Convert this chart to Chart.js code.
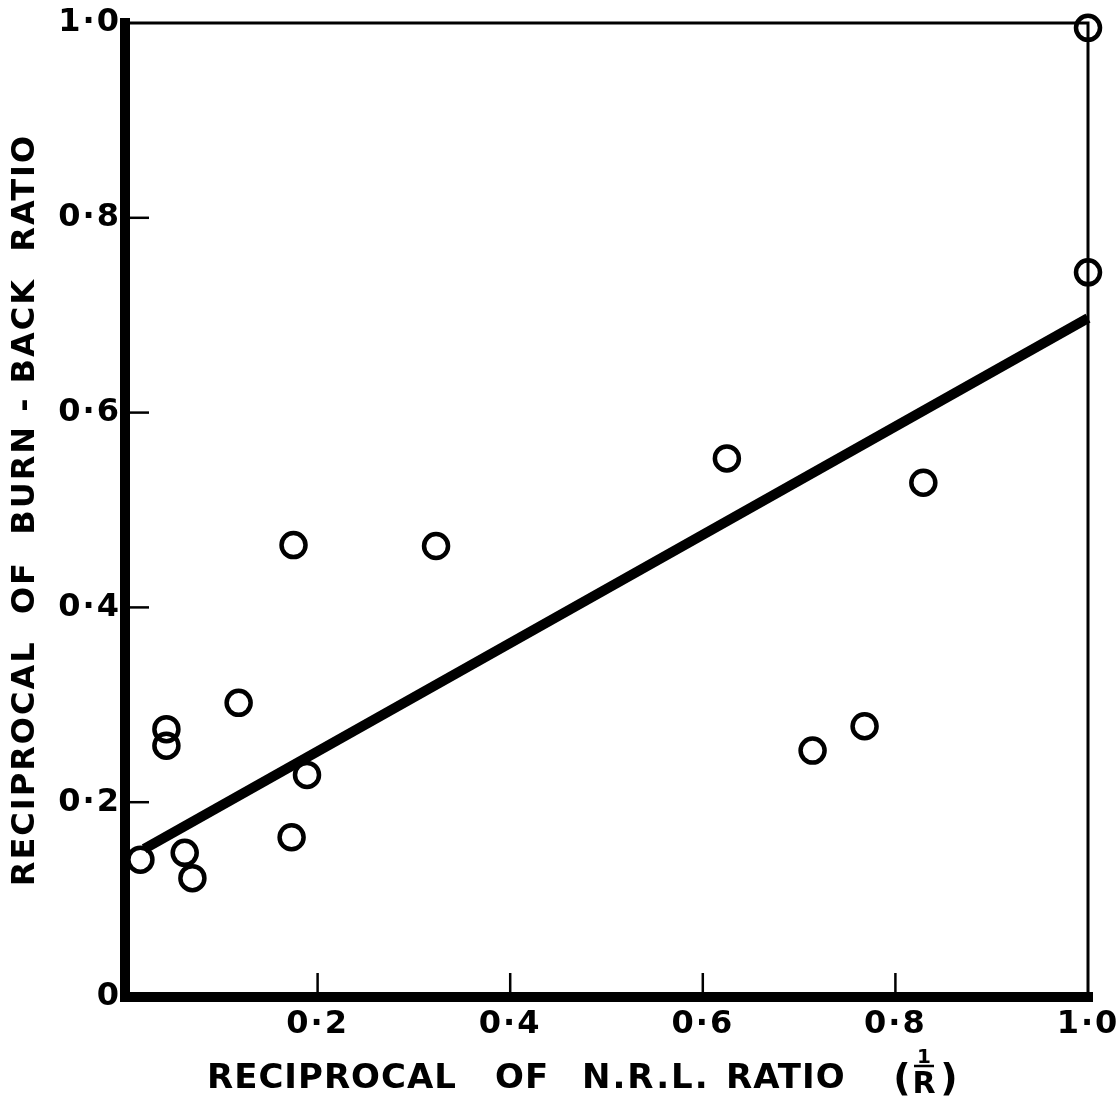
<!DOCTYPE html>
<html>
<head>
<meta charset="utf-8">
<script src="https://cdn.jsdelivr.net/npm/chart.js@4.4.0/dist/chart.umd.min.js"></script>
<style>
  html, body { margin: 0; padding: 0; background: #fff; }
  #wrap { width: 1116px; height: 1113px; position: relative; }
</style>
</head>
<body>
<div id="wrap"><canvas id="chart"></canvas></div>
<script>
// reciprocal of N.R.L. ratio (1/R) and reciprocal of burn-back ratio
const nrlRecip = [1.0, 1.0, 0.625, 0.829, 0.175, 0.323, 0.118, 0.043, 0.043, 0.189, 0.714, 0.768, 0.173, 0.016, 0.062, 0.070];
const burnBackRecip = [0.995, 0.744, 0.553, 0.528, 0.464, 0.463, 0.302, 0.275, 0.258, 0.228, 0.253, 0.278, 0.164, 0.141, 0.148, 0.122];

// fitted straight line
const fitX = [0.02, 1.0];
const fitY = [0.152, 0.697];

const tickValues = [0, 0.2, 0.4, 0.6, 0.8, 1.0];

const xTitleWords = ["RECIPROCAL", "OF", "N.R.L.", "RATIO"];
const yTitle = "RECIPROCAL  OF  BURN - BACK  RATIO";

const fontFamily = "'DejaVu Sans', sans-serif";

function fmt(v) {
  if (v === 0) return "0";
  return v.toFixed(1).replace(".", "\u00B7");
}

const frameAndLabels = {
  id: "frameAndLabels",
  beforeDraw(chart) {
    chart.ctx.letterSpacing = "2px";
  },
  beforeDatasetsDraw(chart) {
    const ctx = chart.ctx;
    ctx.letterSpacing = "0px";
    const { left, right, top, bottom } = chart.chartArea;
    const xs = chart.scales.x;
    const ys = chart.scales.y;
    ctx.save();
    ctx.strokeStyle = "#000";
    ctx.lineJoin = "miter";
    ctx.lineCap = "square";
    // thin top and right edges
    ctx.lineWidth = 3;
    ctx.beginPath();
    ctx.moveTo(left, top);
    ctx.lineTo(right, top);
    ctx.lineTo(right, bottom);
    ctx.stroke();
    // heavy axes
    ctx.lineWidth = 10;
    ctx.beginPath();
    ctx.moveTo(left, top);
    ctx.lineTo(left, bottom);
    ctx.lineTo(right, bottom);
    ctx.stroke();
    // inward tick marks
    ctx.lineWidth = 2.5;
    ctx.lineCap = "butt";
    tickValues.forEach(function (v) {
      if (v === 0 || v === 1) return;
      const px = xs.getPixelForValue(v);
      ctx.beginPath();
      ctx.moveTo(px, bottom);
      ctx.lineTo(px, bottom - 24);
      ctx.stroke();
      const py = ys.getPixelForValue(v);
      ctx.beginPath();
      ctx.moveTo(left, py);
      ctx.lineTo(left + 24, py);
      ctx.stroke();
    });
    ctx.restore();
  },
  afterDraw(chart) {
    const ctx = chart.ctx;
    const { left } = chart.chartArea;
    ctx.save();
    ctx.fillStyle = "#000";
    ctx.strokeStyle = "#000";
    ctx.textBaseline = "alphabetic";
    ctx.textAlign = "left";
    ctx.font = "bold 34px " + fontFamily;
    const offsets = [82, 370, 457, 601];
    const spacing = ["1px", "1px", "2px", "1px"];
    xTitleWords.forEach(function (w, i) {
      ctx.letterSpacing = spacing[i];
      ctx.fillText(w, left + offsets[i], 1088);
    });

    // (1/R)
    ctx.letterSpacing = "0px";
    const fx = left + 799;
    ctx.font = "bold 38px " + fontFamily;
    ctx.textAlign = "center";
    ctx.fillText("(", fx - 22, 1090);
    ctx.fillText(")", fx + 25, 1090);
    ctx.font = "bold 20px " + fontFamily;
    ctx.fillText("1", fx, 1063);
    ctx.lineWidth = 2.5;
    ctx.beginPath();
    ctx.moveTo(fx - 10, 1066);
    ctx.lineTo(fx + 10, 1066);
    ctx.stroke();
    ctx.font = "bold 30px " + fontFamily;
    ctx.fillText("R", fx, 1093);
    ctx.restore();
  }
};

const tickFont = { family: fontFamily, size: 32, weight: "bold" };

new Chart(document.getElementById("chart"), {
  type: "scatter",
  data: {
    datasets: [
      {
        type: "line",
        data: fitX.map((x, i) => ({ x: x, y: fitY[i] })),
        borderColor: "#000",
        borderWidth: 10,
        borderCapStyle: "butt",
        pointRadius: 0,
        fill: false,
        clip: false,
        order: 2
      },
      {
        data: nrlRecip.map((x, i) => ({ x: x, y: burnBackRecip[i] })),
        pointRadius: 12,
        pointBorderWidth: 4.5,
        pointBorderColor: "#000",
        pointBackgroundColor: "rgba(0,0,0,0)",
        showLine: false,
        clip: false,
        order: 1
      }
    ]
  },
  options: {
    responsive: true,
    maintainAspectRatio: false,
    animation: false,
    layout: { padding: { top: 23, right: 28, left: 0, bottom: 0 } },
    plugins: {
      legend: { display: false },
      tooltip: { enabled: false }
    },
    scales: {
      x: {
        type: "linear",
        min: 0,
        max: 1,
        ticks: {
          stepSize: 0.2,
          padding: 8,
          color: "#000",
          font: tickFont,
          maxRotation: 0,
          autoSkip: false,
          callback: (v) => (v === 0 ? "" : fmt(v))
        },
        grid: { display: false, drawTicks: false },
        border: { display: false },
        afterFit: function (s) {
          s.height = 116;
          s.paddingLeft = 0;
          s.paddingRight = 0;
        }
      },
      y: {
        type: "linear",
        min: 0,
        max: 1,
        ticks: {
          stepSize: 0.2,
          padding: 4,
          color: "#000",
          font: tickFont,
          callback: (v) => fmt(v)
        },
        grid: { display: false, drawTicks: false },
        border: { display: false },
        title: {
          display: true,
          text: yTitle,
          color: "#000",
          font: { family: fontFamily, size: 32, weight: "bold" },
          padding: { top: 6, bottom: 0 }
        },
        afterFit: function (s) {
          s.width = 125;
          s.paddingTop = 0;
          s.paddingBottom = 0;
        }
      }
    }
  },
  plugins: [frameAndLabels]
});
</script>
</body>
</html>
